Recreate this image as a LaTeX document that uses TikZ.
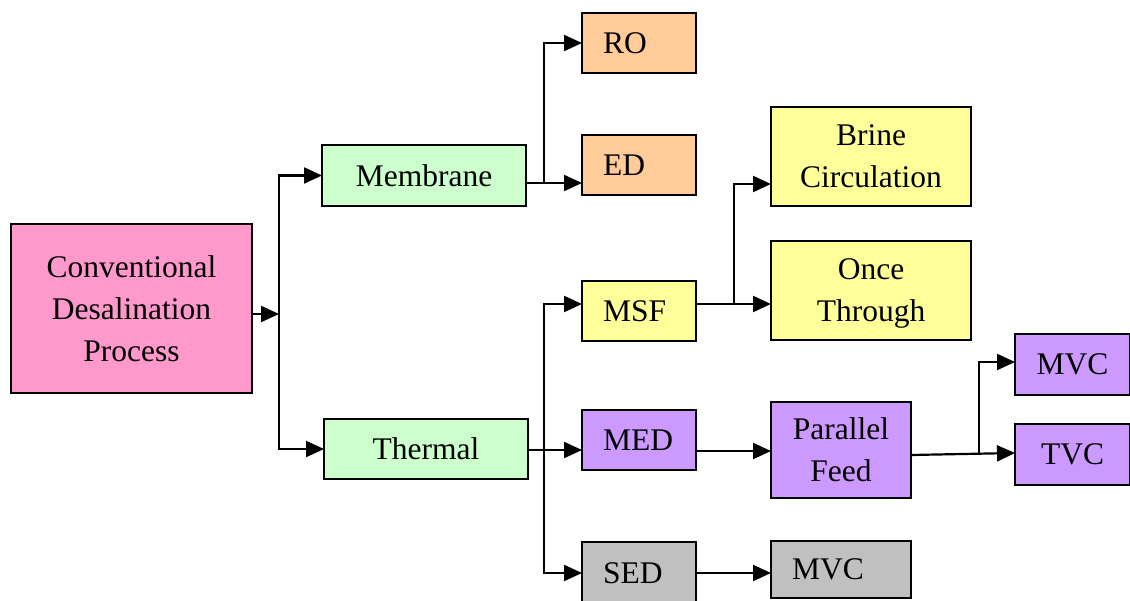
\documentclass[tikz,border=0pt]{standalone}
\usepackage{fontspec}
\setmainfont{Liberation Serif}
\usetikzlibrary{arrows.meta}
\definecolor{cpink}{HTML}{FF99CC}
\definecolor{cgreen}{HTML}{CCFFCC}
\definecolor{corange}{HTML}{FFCC99}
\definecolor{cyellow}{HTML}{FFFF99}
\definecolor{cpurple}{HTML}{CC99FF}
\definecolor{cgray}{HTML}{C0C0C0}
\tikzset{
  box/.style={draw=black, line width=1.6pt, anchor=north west, outer sep=0pt,
    inner sep=0pt, align=center, font=\fontsize{31.5}{42}\selectfont},
  lbox/.style={box, inner xsep=21pt, text width=#1, align=left},
  arr/.style={line width=2.2pt, -{Triangle[length=18pt,width=16pt]}},
  ln/.style={line width=2.2pt}
}
\begin{document}
\begin{tikzpicture}[x=1pt,y=-1pt]
\useasboundingbox (0,0) rectangle (1130,601);
% nodes
\node[box, fill=cpink, minimum width=241pt, minimum height=169pt] (conv) at (11,224) {Conventional\\Desalination\\Process};
\node[box, fill=cgreen, minimum width=204pt, minimum height=61pt] (mem) at (322,145) {Membrane};
\node[box, fill=cgreen, minimum width=204pt, minimum height=60pt] (therm) at (324,419) {Thermal};
\node[lbox=72pt, fill=corange, minimum width=114pt, minimum height=60pt] (ro) at (582,13) {RO};
\node[lbox=72pt, fill=corange, minimum width=114pt, minimum height=60pt] (ed) at (582,135) {ED};
\node[box, fill=cyellow, minimum width=200pt, minimum height=99pt, text depth=-6pt] (brine) at (771,107) {Brine\\Circulation};
\node[box, fill=cyellow, minimum width=200pt, minimum height=99pt, text depth=-6pt] (once) at (771,241) {Once\\Through};
\node[lbox=72pt, fill=cyellow, minimum width=114pt, minimum height=60pt] (msf) at (582,281) {MSF};
\node[lbox=72pt, fill=cpurple, minimum width=114pt, minimum height=60pt] (med) at (582,410) {MED};
\node[box, fill=cpurple, minimum width=140pt, minimum height=96pt, text depth=-6pt] (pf) at (771,402) {Parallel\\Feed};
\node[box, fill=cpurple, minimum width=115pt, minimum height=61pt] (mvca) at (1015,334) {MVC};
\node[box, fill=cpurple, minimum width=115pt, minimum height=61pt] (tvc) at (1015,424) {TVC};
\node[lbox=72pt, fill=cgray, minimum width=114pt, minimum height=62pt] (sed) at (582,542) {SED};
\node[lbox=98pt, fill=cgray, minimum width=140pt, minimum height=57pt] (mvcb) at (771,541) {MVC};
% junction coordinates
\coordinate (j1) at (279,314);
\coordinate (m1) at (544,183);
\coordinate (m2) at (734,304);
\coordinate (b1) at (734,184);
\coordinate (t1) at (544,450);
\coordinate (t2) at (544,304);
\coordinate (t3) at (544,573);
\coordinate (p1) at (0,451);
\coordinate (q0) at (0,455);
\coordinate (q1) at (979,453);
\coordinate (q2) at (979,362);
% connectors
\draw[arr] (conv.east |- j1) -- (j1);
\draw[arr] (j1) |- (mem.west);
\draw[arr] (j1) |- (therm.west);
\draw[arr] (mem.east |- m1) -- (ed.west |- m1);
\draw[arr] (m1) |- (ro.west);
\draw[arr] (msf.east |- m2) -- (once.west |- m2);
\draw[arr] (m2) -- (b1) -- (brine.west |- b1);
\draw[arr] (therm.east |- t1) -- (med.west |- t1);
\draw[arr] (t1) -- (t2) -- (msf.west |- t2);
\draw[arr] (t1) -- (t3) -- (sed.west |- t3);
\draw[arr] (med.east |- p1) -- (pf.west |- p1);
\draw[arr] (pf.east |- q0) -- (tvc.west |- q1);
\draw[arr] (q1) -- (q2) -- (mvca.west |- q2);
\draw[arr] (sed.east |- t3) -- (mvcb.west |- t3);
\end{tikzpicture}
\end{document}
